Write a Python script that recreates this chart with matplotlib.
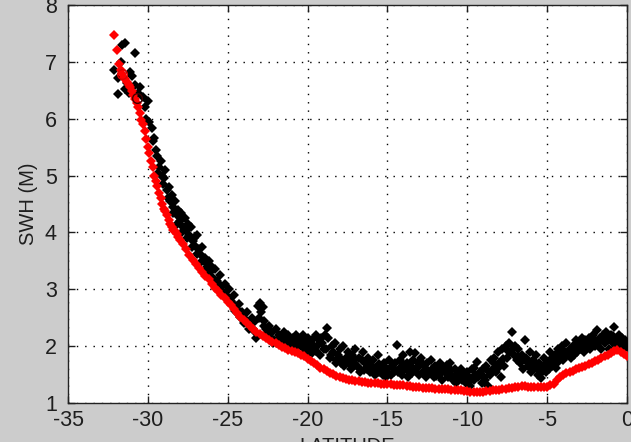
import matplotlib
matplotlib.use("Agg")
import matplotlib.pyplot as plt

# ---------------------------------------------------------------------------
# Data
# ---------------------------------------------------------------------------
# measured SWH, black diamonds
obs_lat = [
    -32.1, -31.9, -31.9, -31.7, -31.6, -31.4, -31.4, -31.3, -31.2, -31.1,
    -31.0, -30.8, -30.8, -30.6, -30.5, -30.3, -30.2, -30.0, -30.1, -29.9,
    -29.75, -29.7, -29.6, -29.5,
    -29.4, -29.3, -29.2, -29.1, -29.0, -28.9, -28.8, -28.7, -28.6, -28.5,
    -28.4, -28.3, -28.2, -28.1, -28.0, -27.9, -27.8, -27.7, -27.6, -27.5,
    -27.4, -27.3, -27.2, -27.1, -27.0, -26.9, -26.8, -26.7, -26.6, -26.5,
    -26.4, -26.3, -26.2, -26.1, -26.0, -25.9, -25.8, -25.7, -25.6, -25.5,
    -25.4, -25.3, -25.2, -25.1, -25.0, -24.9, -24.8, -24.7, -24.6, -24.5,
    -24.4, -24.3, -24.2, -24.1, -24.0, -23.9, -23.8, -23.7, -23.6, -23.5,
    -23.4, -23.3, -23.1, -23.0, -22.9, -22.8, -22.7, -22.6, -22.5, -23.2,
    -22.4, -22.3, -22.2, -22.1, -22.0, -21.9, -21.8, -21.7, -21.6, -21.5,
    -21.4, -21.3, -21.2, -21.1, -21.0, -20.9, -20.8, -20.7, -20.6, -20.5,
    -20.4, -20.3, -20.2, -20.1, -20.0, -19.9, -19.8, -19.7, -19.6, -19.5,
    -19.4, -19.3, -19.2, -19.1, -19.0, -18.9, -18.8, -18.7, -18.6, -18.5,
    -18.4, -18.3, -18.2, -18.1, -18.0, -17.9, -17.8, -17.7, -17.6, -17.5,
    -17.4, -17.3, -17.2, -17.1, -17.0, -16.9, -16.8, -16.7, -16.6, -16.5,
    -16.4, -16.3, -16.2, -16.1, -16.0, -15.9, -15.8, -15.7, -15.6, -15.5,
    -15.4, -15.3, -15.2, -15.1, -15.0, -14.9, -14.8, -14.7, -14.6, -14.5,
    -14.4, -14.3, -14.2, -14.1, -14.0, -13.9, -13.8, -13.7, -13.6, -13.5,
    -13.4, -13.3, -13.2, -13.1, -13.0, -12.9, -12.8, -12.7, -12.6, -12.5,
    -12.4, -12.3, -12.2, -12.1, -12.0, -11.9, -11.8, -11.7, -11.6, -11.5,
    -11.4, -11.3, -11.2, -11.1, -11.0, -10.9, -10.8, -10.7, -10.6, -10.5,
    -10.4, -10.3, -10.2, -10.1, -10.0, -9.9, -9.8, -9.7, -9.6, -9.5,
    -9.4, -9.3, -9.2, -9.1, -9.0, -8.9, -8.8, -8.7, -8.6, -8.5,
    -8.4, -8.3, -8.2, -8.1, -8.0, -7.9, -7.8, -7.7, -7.6, -7.5,
    -7.4, -7.3, -7.2, -7.1, -7.0, -6.9, -6.8, -6.7, -6.6, -6.5,
    -6.4, -6.3, -6.2, -6.1, -6.0, -5.9, -5.8, -5.7, -5.6, -5.5,
    -5.4, -5.3, -5.2, -5.1, -5.0, -4.9, -4.8, -4.7, -4.6, -4.5,
    -4.4, -4.3, -4.2, -4.1, -4.0, -3.9, -3.8, -3.7, -3.6, -3.5,
    -3.4, -3.3, -3.2, -3.1, -3.0, -2.9, -2.8, -2.7, -2.6, -2.5,
    -2.4, -2.3, -2.2, -2.1, -2.0, -1.9, -1.8, -1.7, -1.6, -1.5,
    -1.4, -1.3, -1.2, -1.1, -1.0, -0.9, -0.8, -0.7, -0.6, -0.5,
    -0.4, -0.3, -0.2, -0.1, 0.0,
    # second pass along the track (fills the band)
    -29.35, -29.05, -28.75, -28.45, -28.15, -27.85, -27.55, -27.25, -26.95,
    -26.65, -26.35, -26.05, -25.75, -25.45, -25.15, -24.85, -24.55, -24.25,
    -23.95, -23.65, -23.35, -23.05, -22.75, -22.45, -22.15, -21.85, -21.55,
    -21.25, -20.95, -20.65, -20.35, -20.05, -19.75, -19.45, -19.15, -18.85,
    -18.55, -18.25, -17.95, -17.65, -17.35, -17.05, -16.75, -16.45, -16.15,
    -15.85, -15.55, -15.25, -14.95, -14.65, -14.35, -14.05, -13.75, -13.45,
    -13.15, -12.85, -12.55, -12.25, -11.95, -11.65, -11.35, -11.05, -10.75,
    -10.45, -10.15, -9.85, -9.55, -9.25, -8.95, -8.65, -8.35, -8.05,
    -7.75, -7.45, -7.15, -6.85, -6.55, -6.25, -5.95, -5.65, -5.35,
    -5.05, -4.75, -4.45, -4.15, -3.85, -3.55, -3.25, -2.95, -2.65,
    -2.35, -2.05, -1.75, -1.45, -1.15, -0.85, -0.55, -0.25,
]
obs_swh = [
    6.85, 6.43, 6.71, 6.99, 7.29, 7.33, 6.53, 6.62, 6.45, 6.82,
    6.76, 7.15, 6.60, 6.45, 6.55, 6.38, 6.20, 6.32, 6.00, 5.95,
    5.83, 5.60, 5.66, 5.45,
    5.35, 5.15, 5.25, 5.00, 4.95, 5.10, 4.75, 4.80, 4.55, 4.65,
    4.45, 4.55, 4.30, 4.40, 4.20, 4.35, 4.10, 4.25, 4.05, 4.15,
    3.95, 4.10, 3.85, 3.90, 3.75, 3.95, 3.70, 3.60, 3.75, 3.50,
    3.55, 3.40, 3.50, 3.30, 3.40, 3.20, 3.35, 3.15, 3.10, 3.25,
    3.05, 2.95, 3.10, 2.90, 2.85, 3.00, 2.80, 2.75, 2.90, 2.70,
    2.65, 2.75, 2.55, 2.60, 2.50, 2.45, 2.60, 2.40, 2.35, 2.50,
    2.30, 2.25, 2.70, 2.76, 2.60, 2.68, 2.45, 2.30, 2.20, 2.15,
    2.35, 2.15, 2.25, 2.10, 2.30, 2.05, 2.20, 2.15, 2.10, 2.25,
    2.15, 2.05, 2.20, 2.10, 2.00, 2.15, 2.05, 2.20, 2.10, 2.12,
    2.05, 2.20, 1.95, 2.10, 2.15, 1.90, 2.05, 2.10, 1.95, 2.20,
    2.00, 2.10, 1.85, 2.05, 1.95, 2.20, 2.32, 2.15, 1.80, 2.00,
    1.90, 2.05, 1.75, 1.85, 1.95, 1.70, 2.00, 1.65, 1.80, 1.90,
    1.75, 1.60, 1.85, 1.70, 1.95, 1.65, 1.80, 1.55, 1.75, 1.90,
    1.70, 1.60, 1.80, 1.55, 1.65, 1.75, 1.50, 1.60, 1.85, 1.55,
    1.65, 1.50, 1.70, 1.45, 1.60, 1.75, 1.50, 1.65, 1.55, 1.70,
    2.02, 1.60, 1.75, 1.50, 1.85, 1.60, 1.70, 1.45, 1.90, 1.65,
    1.75, 1.88, 1.60, 1.70, 1.50, 1.80, 1.55, 1.65, 1.45, 1.70,
    1.55, 1.75, 1.60, 1.45, 1.65, 1.58, 1.50, 1.70, 1.40, 1.60,
    1.55, 1.67, 1.45, 1.70, 1.50, 1.40, 1.60, 1.35, 1.55, 1.45,
    1.60, 1.40, 1.50, 1.35, 1.55, 1.45, 1.30, 1.60, 1.40, 1.50,
    1.72, 1.45, 1.55, 1.35, 1.60, 1.40, 1.65, 1.30, 1.50, 1.75,
    1.60, 1.80, 1.55, 1.90, 1.70, 1.45, 1.95, 1.65, 2.00, 1.80,
    2.05, 1.90, 2.25, 1.85, 2.00, 1.75, 1.95, 1.70, 1.85, 1.60,
    2.10, 1.80, 1.65, 1.90, 1.55, 1.75, 1.60, 1.85, 1.50, 1.70,
    1.44, 1.65, 1.80, 1.55, 1.70, 1.60, 1.90, 1.65, 1.75, 1.85,
    1.70, 1.95, 1.80, 2.00, 1.75, 1.90, 2.05, 1.85, 1.95, 1.80,
    2.00, 1.85, 2.10, 1.90, 2.05, 1.95, 2.15, 1.90, 2.10, 2.00,
    2.15, 1.95, 2.10, 2.20, 2.00, 2.28, 2.05, 2.15, 1.95, 2.20,
    2.05, 2.25, 2.10, 1.95, 2.20, 2.05, 2.34, 2.10, 2.00, 2.20,
    2.05, 2.15, 1.95, 2.10, 2.00,
    # second pass
    5.05, 4.85, 4.60, 4.35, 4.15, 4.00, 3.90, 3.75, 3.62,
    3.48, 3.35, 3.22, 3.08, 2.98, 2.88, 2.78, 2.62, 2.52,
    2.40, 2.30, 2.42, 2.50, 2.35, 2.25, 2.05, 2.12, 2.18,
    2.00, 2.08, 1.98, 2.02, 1.98, 1.88, 1.92, 2.15, 1.95,
    1.85, 1.70, 1.80, 1.72, 1.68, 1.78, 1.62, 1.58, 1.70,
    1.62, 1.68, 1.58, 1.52, 1.62, 1.55, 1.68, 1.58, 1.52,
    1.62, 1.70, 1.58, 1.52, 1.48, 1.62, 1.52, 1.58, 1.48,
    1.52, 1.45, 1.38, 1.62, 1.50, 1.45, 1.55, 1.70, 1.62,
    1.78, 1.92, 1.95, 1.82, 1.78, 1.72, 1.68, 1.62, 1.55,
    1.62, 1.78, 1.62, 1.88, 1.82, 1.88, 1.95, 1.98, 2.02,
    2.05, 2.12, 2.08, 2.12, 2.15, 2.18, 2.12, 2.08,
]

# model SWH, red diamonds
mod_lat = [
    -32.1, -31.95, -31.8, -31.7, -31.6, -31.5, -31.4, -31.3, -31.2, -31.1,
    -31.0, -30.9, -30.8, -30.7, -30.6, -30.5, -30.4, -30.3, -30.2, -30.1,
    -30.0, -29.9, -29.8, -29.7, -29.6, -29.5, -29.4, -29.3, -29.2, -29.1,
    -29.0, -28.9, -28.8, -28.7, -28.6, -28.5, -28.4, -28.3, -28.2, -28.1,
    -28.0, -27.8, -27.6, -27.4, -27.2, -27.0, -26.8, -26.6, -26.4, -26.2,
    -26.0, -25.8, -25.6, -25.4, -25.2, -25.0, -24.8, -24.6, -24.4, -24.2,
    -24.0, -23.8, -23.6, -23.4, -23.2, -23.0, -22.8, -22.6, -22.4, -22.2,
    -22.0, -21.8, -21.6, -21.4, -21.2, -21.0, -20.8, -20.6, -20.4, -20.2,
    -20.0, -19.8, -19.6, -19.4, -19.2, -19.0, -18.8, -18.6, -18.4, -18.2,
    -18.0, -17.8, -17.6, -17.4, -17.2, -17.0, -16.8, -16.6, -16.4, -16.2,
    -16.0, -15.8, -15.6, -15.4, -15.2, -15.0, -14.8, -14.6, -14.4, -14.2,
    -14.0, -13.8, -13.6, -13.4, -13.2, -13.0, -12.8, -12.6, -12.4, -12.2,
    -12.0, -11.8, -11.6, -11.4, -11.2, -11.0, -10.8, -10.6, -10.4, -10.2,
    -10.0, -9.8, -9.6, -9.4, -9.2, -9.0, -8.8, -8.6, -8.4, -8.2,
    -8.0, -7.8, -7.6, -7.4, -7.2, -7.0, -6.8, -6.6, -6.4, -6.2,
    -6.0, -5.8, -5.6, -5.4, -5.2, -5.0, -4.8, -4.6, -4.4, -4.2,
    -4.0, -3.8, -3.6, -3.4, -3.2, -3.0, -2.8, -2.6, -2.4, -2.2,
    -2.0, -1.8, -1.6, -1.4, -1.2, -1.0, -0.8, -0.6, -0.4, -0.2,
    0.0,
]
mod_swh = [
    7.47, 7.20, 6.97, 6.85, 6.78, 6.72, 6.70, 6.65, 6.60, 6.55,
    6.48, 6.42, 6.35, 6.28, 6.20, 6.10, 5.98, 5.90, 5.78, 5.65,
    5.50, 5.40, 5.25, 5.15, 5.00, 4.90, 4.82, 4.70, 4.60, 4.50,
    4.42, 4.38, 4.30, 4.22, 4.15, 4.10, 4.05, 4.02, 3.97, 3.92,
    3.87, 3.80, 3.70, 3.60, 3.52, 3.45, 3.38, 3.30, 3.24, 3.18,
    3.10, 3.03, 2.97, 2.90, 2.85, 2.78, 2.72, 2.65, 2.58, 2.52,
    2.46, 2.40, 2.35, 2.30, 2.25, 2.21, 2.18, 2.15, 2.11, 2.08,
    2.05, 2.02, 1.99, 1.97, 1.94, 1.92, 1.90, 1.88, 1.85, 1.82,
    1.78, 1.74, 1.70, 1.66, 1.62, 1.59, 1.56, 1.53, 1.51, 1.48,
    1.46, 1.44, 1.42, 1.41, 1.40, 1.39, 1.38, 1.37, 1.37, 1.36,
    1.36, 1.35, 1.35, 1.34, 1.34, 1.33, 1.33, 1.32, 1.32, 1.31,
    1.31, 1.30, 1.30, 1.29, 1.28, 1.28, 1.27, 1.27, 1.26, 1.26,
    1.25, 1.25, 1.25, 1.24, 1.24, 1.23, 1.23, 1.22, 1.22, 1.21,
    1.21, 1.20, 1.20, 1.20, 1.20, 1.20, 1.21, 1.21, 1.22, 1.22,
    1.23, 1.24, 1.25, 1.26, 1.27, 1.28, 1.29, 1.30, 1.30, 1.29,
    1.29, 1.28, 1.28, 1.28, 1.29, 1.29, 1.31, 1.34, 1.40, 1.46,
    1.50, 1.53, 1.55, 1.57, 1.59, 1.61, 1.63, 1.65, 1.68, 1.70,
    1.73, 1.76, 1.79, 1.82, 1.85, 1.88, 1.91, 1.93, 1.90, 1.86,
    1.82,
]

# circled points near the start of the track
ring_lat = [-31.6, -30.7]
ring_swh = [6.78, 6.36]
ring_col = ["#dd0000", "#400000"]

x_ticks = [-35, -30, -25, -20, -15, -10, -5, 0]
y_ticks = [1, 2, 3, 4, 5, 6, 7, 8]

# ---------------------------------------------------------------------------
# Figure
# ---------------------------------------------------------------------------
BG = "#cccccc"
TXT = "#1e1e1e"

plt.rcParams["font.family"] = ["Liberation Sans", "DejaVu Sans"]

fig = plt.figure(figsize=(6.31, 4.42), dpi=100)
fig.patch.set_facecolor(BG)
ax = fig.add_axes([68 / 631, 39 / 442, 559 / 631, 398 / 442])
ax.set_facecolor("white")

ax.plot(obs_lat, obs_swh, linestyle="none", marker="D", markersize=5.2,
        color="black", markeredgewidth=0, zorder=3)
ax.plot(mod_lat, mod_swh, linestyle="none", marker="D", markersize=5.6,
        color="#ff0000", markeredgewidth=0, zorder=4)
for lx, ly, c in zip(ring_lat, ring_swh, ring_col):
    ax.plot(lx, ly, linestyle="none", marker="o", markersize=7,
            markerfacecolor="none", markeredgecolor=c, markeredgewidth=1.0,
            zorder=5)

ax.set_xlim(-35, 0)
ax.set_ylim(1, 8)
ax.set_xticks(x_ticks)
ax.set_yticks(y_ticks)
ax.set_xticklabels([str(v) for v in x_ticks])
ax.set_yticklabels([str(v) for v in y_ticks])

ax.grid(True, color="black", linestyle=(0, (1, 5)), linewidth=1.0)
ax.set_axisbelow(True)

ax.tick_params(axis="both", which="both", direction="in", length=5,
               width=1, colors=TXT, labelsize=15.5,
               top=True, right=True)
ax.tick_params(axis="x", pad=5)
ax.tick_params(axis="y", pad=8)
for sp in ax.spines.values():
    sp.set_color("#222222")
    sp.set_linewidth(1.0)

ax.set_ylabel("SWH (M)", fontsize=14.5, color=TXT, labelpad=5)
fig.text(347 / 631, 5 / 442, "LATITUDE", ha="center", va="top",
         fontsize=14.5, color=TXT)

fig.savefig("out.png", dpi=100, facecolor=BG)
